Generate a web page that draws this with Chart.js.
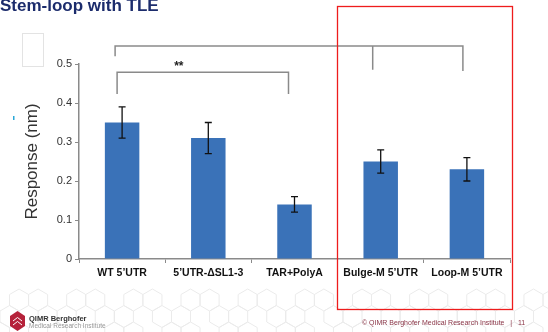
<!DOCTYPE html>
<html lang="en">
<head>
  <meta charset="UTF-8">
  <title>Stem-loop with TLE</title>
  <script src="https://cdn.jsdelivr.net/npm/chart.js"></script>
  <style>
    html, body { margin: 0; padding: 0; background: #ffffff; }
    #wrap { position: relative; width: 548px; height: 332px; }
  </style>
</head>
<body>
  <div id="wrap">
    <canvas id="responseChart" width="548" height="332"></canvas>
  </div>

  <script>
    const categories = ['WT 5\u2019UTR', '5\u2019UTR-\u0394SL1-3', 'TAR+PolyA', 'Bulge-M 5\u2019UTR', 'Loop-M 5\u2019UTR'];
    const responses = [0.35, 0.31, 0.14, 0.25, 0.23];
    const errors = [0.04, 0.04, 0.02, 0.03, 0.03];
    const yTicks = [0, 0.1, 0.2, 0.3, 0.4, 0.5];

    // faint hexagon pattern at the foot of the slide
    const background = {
      id: 'background',
      beforeDraw(chart) {
        const ctx = chart.ctx;
        ctx.save();
        ctx.beginPath();
        ctx.rect(0, 288, 548, 44);
        ctx.clip();
        ctx.strokeStyle = '#ebebeb';
        ctx.lineWidth = 1;
        const r = 11;
        const w = r * Math.sqrt(3);
        for (let row = 0; row < 3; row++) {
          for (let col = 0; col < 30; col++) {
            if ((col * 7 + row * 5) % 3 === 0) continue;
            const cx = col * w + (row % 2 ? w / 2 : 0);
            const cy = 300 + row * r * 1.5;
            ctx.beginPath();
            for (let k = 0; k < 6; k++) {
              const a = Math.PI / 6 + k * Math.PI / 3;
              const hx = cx + r * Math.cos(a), hy = cy + r * Math.sin(a);
              if (k === 0) ctx.moveTo(hx, hy); else ctx.lineTo(hx, hy);
            }
            ctx.closePath();
            ctx.stroke();
          }
        }
        ctx.restore();
      }
    };

    // error bars on top of each bar
    const errorBars = {
      id: 'errorBars',
      afterDatasetsDraw(chart) {
        const ctx = chart.ctx;
        const y = chart.scales.y;
        const meta = chart.getDatasetMeta(0);
        ctx.save();
        ctx.strokeStyle = '#111';
        ctx.lineWidth = 1.3;
        meta.data.forEach((bar, i) => {
          const top = y.getPixelForValue(responses[i] + errors[i]);
          const bot = y.getPixelForValue(responses[i] - errors[i]);
          ctx.beginPath();
          ctx.moveTo(bar.x, top); ctx.lineTo(bar.x, bot);
          ctx.moveTo(bar.x - 3.5, top); ctx.lineTo(bar.x + 3.5, top);
          ctx.moveTo(bar.x - 3.5, bot); ctx.lineTo(bar.x + 3.5, bot);
          ctx.stroke();
        });
        ctx.restore();
      }
    };

    // slide decoration: title, brackets, red box, footer
    const slideBits = {
      id: 'slideBits',
      afterDraw(chart) {
        const ctx = chart.ctx;
        const x = chart.scales.x;
        const y = chart.scales.y;
        ctx.save();

        // title
        ctx.fillStyle = '#1c2c6c';
        ctx.font = 'bold 17px "Liberation Sans", Arial, sans-serif';
        ctx.textBaseline = 'alphabetic';
        ctx.fillText('Stem-loop with TLE', 0, 11);

        // small blank box left
        ctx.strokeStyle = '#e3e3e3';
        ctx.lineWidth = 1;
        ctx.strokeRect(22.5, 33.5, 21, 33);
        ctx.fillStyle = '#2aa8d8';
        ctx.fillRect(13, 116, 1.5, 4);

        // significance brackets
        ctx.strokeStyle = '#8a8a8a';
        ctx.lineWidth = 1.5;
        const px = (i, off) => x.getPixelForValue(i) + off;
        ctx.beginPath();
        ctx.moveTo(px(0, -7), y.getPixelForValue(0.52));
        ctx.lineTo(px(0, -7), y.getPixelForValue(0.546));
        ctx.lineTo(px(4, -4), y.getPixelForValue(0.546));
        ctx.lineTo(px(4, -4), y.getPixelForValue(0.482));
        ctx.moveTo(px(3, -8), y.getPixelForValue(0.546));
        ctx.lineTo(px(3, -8), y.getPixelForValue(0.485));
        ctx.moveTo(px(0, -5), y.getPixelForValue(0.423));
        ctx.lineTo(px(0, -5), y.getPixelForValue(0.479));
        ctx.lineTo(px(2, -6), y.getPixelForValue(0.479));
        ctx.lineTo(px(2, -6), y.getPixelForValue(0.423));
        ctx.stroke();

        ctx.fillStyle = '#222';
        ctx.font = 'bold 12px "Liberation Sans", Arial, sans-serif';
        ctx.textAlign = 'center';
        ctx.fillText('**', (px(0, -5) + px(2, -6)) / 2 - 24, y.getPixelForValue(0.479) - 2);

        // red highlight box
        ctx.strokeStyle = '#ee1c1c';
        ctx.lineWidth = 1.3;
        ctx.strokeRect(337.5, 6.5, 175, 303);

        // footer logo
        ctx.fillStyle = '#b5223a';
        ctx.beginPath();
        ctx.moveTo(10, 316); ctx.lineTo(17.5, 311); ctx.lineTo(25, 316);
        ctx.lineTo(25, 326); ctx.lineTo(17.5, 331); ctx.lineTo(10, 326);
        ctx.closePath();
        ctx.fill();
        ctx.strokeStyle = '#fff';
        ctx.lineWidth = 1;
        ctx.beginPath();
        ctx.moveTo(13, 321); ctx.lineTo(17.5, 317.5); ctx.lineTo(22, 321);
        ctx.moveTo(13, 325); ctx.lineTo(17.5, 321.5); ctx.lineTo(22, 325);
        ctx.stroke();

        ctx.textAlign = 'left';
        ctx.fillStyle = '#333';
        ctx.font = 'bold 7.5px "Liberation Sans", Arial, sans-serif';
        ctx.fillText('QIMR Berghofer', 29, 321);
        ctx.fillStyle = '#999';
        ctx.font = '6.5px "Liberation Sans", Arial, sans-serif';
        ctx.fillText('Medical Research Institute', 29, 328);

        ctx.fillStyle = '#8a3446';
        ctx.font = '7px "Liberation Sans", Arial, sans-serif';
        ctx.fillText('\u00a9 QIMR Berghofer Medical Research Institute   |   11', 362, 325);
        ctx.restore();
      }
    };

    const ctx = document.getElementById('responseChart').getContext('2d');
    new Chart(ctx, {
      type: 'bar',
      data: {
        labels: categories,
        datasets: [{
          data: responses,
          backgroundColor: '#3a72b8',
          barPercentage: 0.4,
          categoryPercentage: 1.0
        }]
      },
      options: {
        responsive: false,
        animation: false,
        layout: { padding: { top: 64, right: 38, bottom: 0, left: 0 } },
        plugins: {
          legend: { display: false },
          tooltip: { enabled: false }
        },
        scales: {
          x: {
            offset: true,
            grid: { offset: true, drawOnChartArea: false, color: '#8a8a8a', tickLength: 4 },
            border: { color: '#8a8a8a', width: 1.5 },
            ticks: {
              color: '#111',
              font: { family: '"Liberation Sans", Arial, sans-serif', size: 10.5, weight: 'bold' },
              padding: 4,
              maxRotation: 0,
              autoSkip: false
            },
            afterFit(scale) { scale.height = 73; }
          },
          y: {
            min: 0,
            max: 0.5,
            afterBuildTicks(scale) { scale.ticks = yTicks.map(v => ({ value: v })); },
            grid: { drawOnChartArea: false, color: '#8a8a8a', tickLength: 4 },
            border: { color: '#8a8a8a', width: 1.5 },
            ticks: {
              color: '#333',
              font: { family: '"Liberation Sans", Arial, sans-serif', size: 11 },
              padding: 3,
              callback: v => v === 0 ? '0' : v.toFixed(1)
            },
            title: {
              display: true,
              text: 'Response (nm)',
              color: '#333',
              font: { family: '"Liberation Sans", Arial, sans-serif', size: 17 },
              padding: { top: 22, bottom: 0 }
            },
            afterFit(scale) { scale.width = 79; }
          }
        }
      },
      plugins: [background, errorBars, slideBits]
    });
  </script>
</body>
</html>
